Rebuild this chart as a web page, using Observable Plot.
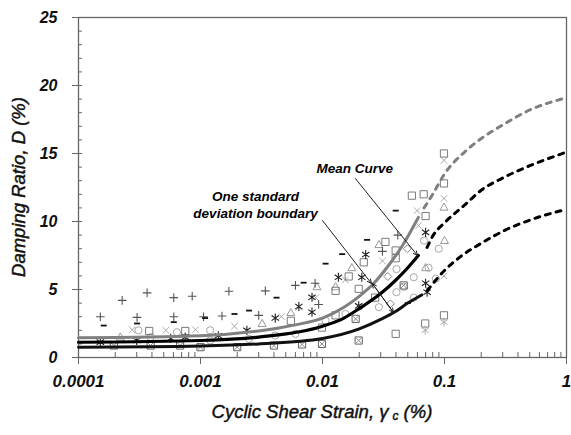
<!DOCTYPE html>
<html><head><meta charset="utf-8">
<script src="https://cdn.jsdelivr.net/npm/d3@7"></script>
<script src="https://cdn.jsdelivr.net/npm/@observablehq/plot@0.6"></script>
<style>body{margin:0;background:#fff}</style>
</head><body><div id="chart"></div>
<script>
// ---- axes ----
const xTicks = [0.0001, 0.001, 0.01, 0.1, 1];
const xTickLabels = ["0.0001", "0.001", "0.01", "0.1", "1"];
const yTicks = [0, 5, 10, 15, 20, 25];
const yTickLabels = ["0", "5", "10", "15", "20", "25"];
const xTitle = ["Cyclic Shear Strain, γ", "c", " (%)"];
const yTitle = "Damping Ratio, D (%)";

// ---- curves ----
const upperX = [0.0001, 0.001, 0.003, 0.006, 0.01, 0.015, 0.02, 0.026, 0.035, 0.045, 0.061];
const upperY = [1.45, 1.6, 1.95, 2.4, 2.9, 3.7, 4.5, 5.4, 6.8, 8.2, 10.3];
const meanX = [0.0001, 0.001, 0.003, 0.01, 0.015, 0.02, 0.03, 0.04, 0.05, 0.061];
const meanY = [1.12, 1.25, 1.5, 2.3, 2.9, 3.6, 4.7, 5.7, 6.6, 7.5];
const lowerX = [0.0001, 0.001, 0.003, 0.01, 0.02, 0.03, 0.04, 0.05, 0.065];
const lowerY = [0.76, 0.85, 1.0, 1.4, 2.1, 2.8, 3.4, 4.0, 4.6];
const upperDashX = [0.068, 0.08, 0.1, 0.15, 0.2, 0.3, 0.5, 1];
const upperDashY = [11.0, 12.0, 13.5, 15.2, 16.1, 17.1, 18.2, 19.1];
const meanDashX = [0.072, 0.081, 0.1, 0.15, 0.2, 0.3, 0.5, 1];
const meanDashY = [8.1, 9.0, 9.9, 11.3, 12.3, 13.2, 14.1, 15.1];
const lowerDashX = [0.072, 0.1, 0.13, 0.2, 0.32, 0.5, 1];
const lowerDashY = [4.9, 6.4, 7.3, 8.4, 9.4, 10.1, 10.9];

// ---- measured points [strain %, damping %] ----
const plusPts = [[0.000151,3.0],[0.000228,4.2],[0.000302,2.95],[0.000365,4.75],[0.000604,4.4],[0.000604,3.0],[0.000855,4.5],[0.00106,3.0],[0.0015,3.05],[0.00171,4.87],[0.003,3.1],[0.0034,4.9],[0.006,5.3],[0.0087,5.46],[0.0093,3.9],[0.031,7.8],[0.0414,9.0]];
const dashPts = [[0.000161,2.35],[0.000302,2.5],[0.000604,2.6],[0.00109,2.9],[0.0019,3.2],[0.0025,3.45],[0.0042,4.4],[0.007,5.5],[0.0106,6.9],[0.0145,7.6],[0.0232,8.65],[0.0398,10.8],[0.05,4.0]];
const timesPts = [[0.000275,2.04],[0.00052,2.0],[0.00091,2.04],[0.0019,2.3],[0.0046,3.0],[0.0064,3.7],[0.0088,4.4],[0.0154,5.7],[0.0198,3.7],[0.031,7.1],[0.0596,10.8],[0.0614,9.7],[0.099,14.5],[0.099,11.7],[0.099,6.0]];
const circlePts = [[0.00031,2.0],[0.00064,1.86],[0.00039,1.5],[0.0012,2.0],[0.0012,1.25],[0.0025,1.37],[0.0041,1.62],[0.006,1.74],[0.0106,2.7],[0.0154,3.2],[0.029,3.7],[0.0404,6.5],[0.0463,5.2],[0.056,5.9],[0.056,4.4],[0.0404,4.8],[0.074,6.6],[0.0897,8.0],[0.068,8.6],[0.085,5.8]];
const squarePts = [[0.00038,1.95],[0.00075,1.95],[0.0055,2.7],[0.0099,2.2],[0.0128,4.9],[0.0128,3.1],[0.0164,5.96],[0.0198,5.05],[0.0218,7.0],[0.027,4.4],[0.0328,8.5],[0.0398,7.87],[0.0398,7.3],[0.054,11.9],[0.0675,12.0],[0.07,10.4],[0.099,15.0],[0.099,12.8],[0.099,3.1],[0.0695,2.5],[0.0398,1.74]];
const boxedPts = [[0.000195,0.88],[0.00039,0.88],[0.00068,0.88],[0.001,0.76],[0.002,0.76],[0.004,0.88],[0.0068,0.96],[0.0099,1.0],[0.0187,2.84],[0.0198,1.25],[0.0463,5.3]];
const trianglePts = [[0.00022,1.5],[0.0032,2.5],[0.0055,3.3],[0.009,5.2],[0.0128,5.2],[0.0174,6.6],[0.029,8.3],[0.1,8.6],[0.099,11.05],[0.07,6.6]];
const diamondPts = [[0.0496,8.0],[0.0343,5.96],[0.036,3.94]];
const asteriskPts = [[0.000151,1.13],[0.0003,1.25],[0.00057,1.4],[0.00075,1.5],[0.0014,1.6],[0.0024,2.0],[0.0041,2.9],[0.0064,3.75],[0.0082,4.43],[0.0082,3.33],[0.0135,5.9],[0.021,5.9],[0.0198,3.8],[0.0226,7.57],[0.07,9.2],[0.07,5.46],[0.072,4.8]];
const lightAsteriskPts = [[0.0695,2.0],[0.099,2.6]];

// ---- annotations ----
const annoText = ["Mean Curve", "One standard", "deviation boundary"];
const annoX = [0.0184, 0.00283, 0.00283];
const annoY = [13.9, 11.84, 10.6];
const arrowX1 = [0.0186, 0.01, 0.0256, 0.0382];
const arrowY1 = [13.16, 10.07, 5.44, 3.31];
const arrowX2 = [0.0601, 0.0252, 0.0382, 0.0256];
const arrowY2 = [7.5, 5.44, 3.31, 5.44];

// ---- build ----
const toRows = (xs, ys) => xs.map((x, i) => ({x, y: ys[i]}));
const pts = a => a.map(([x, y]) => ({x, y}));
const R = s => Math.sqrt(s / Math.PI);
const sym = {
  plus: {draw(c, s) { const r = R(s); c.moveTo(-r, 0); c.lineTo(r, 0); c.moveTo(0, -r); c.lineTo(0, r); }},
  times: {draw(c, s) { const r = R(s) * 0.8; c.moveTo(-r, -r); c.lineTo(r, r); c.moveTo(-r, r); c.lineTo(r, -r); }},
  dash: {draw(c, s) { const r = R(s); c.moveTo(-r, 0); c.lineTo(r, 0); }},
  square: {draw(c, s) { const r = R(s); c.rect(-r, -r, 2 * r, 2 * r); }},
  circle: {draw(c, s) { const r = R(s); c.moveTo(r, 0); c.arc(0, 0, r, 0, 2 * Math.PI); }},
  triangle: {draw(c, s) { const r = R(s); c.moveTo(0, -r); c.lineTo(r * 0.95, r * 0.7); c.lineTo(-r * 0.95, r * 0.7); c.closePath(); }},
  diamond: {draw(c, s) { const r = R(s); c.moveTo(0, -r); c.lineTo(r, 0); c.lineTo(0, r); c.lineTo(-r, 0); c.closePath(); }},
  asterisk: {draw(c, s) { const r = R(s); const u = r * 0.8; c.moveTo(0, -r); c.lineTo(0, r); c.moveTo(-u, -u * 0.7); c.lineTo(u, u * 0.7); c.moveTo(-u, u * 0.7); c.lineTo(u, -u * 0.7); }}
};
const dot = (data, symbol, r, stroke, sw = 1) =>
  Plot.dot(pts(data), {x: "x", y: "y", symbol, r, stroke, fill: "none", strokeWidth: sw});

const minorX = [];
for (const d of [0.0001, 0.001, 0.01, 0.1]) for (let k = 2; k <= 9; k++) minorX.push(+(d * k).toPrecision(3));
const minorY = d3.range(0, 26);

const FONT = "'Liberation Sans', Arial, sans-serif";
const none = () => "";

const plot = Plot.plot({
  width: 571, height: 435,
  marginLeft: 78, marginRight: 5, marginTop: 17, marginBottom: 78,
  style: {fontFamily: FONT, background: "#fff", overflow: "visible"},
  x: {type: "log", domain: [0.0001, 1]},
  y: {domain: [0, 25]},
  marks: [
    // minor ticks (inside)
    Plot.axisX({ticks: minorX, tickSize: -5, tickFormat: none, stroke: "#666", label: null}),
    Plot.axisY({ticks: minorY, tickSize: -4, tickFormat: none, stroke: "#666", label: null}),
    // major ticks + labels
    Plot.axisX({ticks: xTicks, tickSize: 7, tickPadding: 10, tickFormat: d => xTickLabels[xTicks.indexOf(d)],
      stroke: "#666", fill: "#111", fontSize: 17, fontWeight: "bold", fontStyle: "italic", label: null}),
    Plot.axisY({ticks: yTicks, tickSize: 6, tickPadding: 15, tickFormat: d => yTickLabels[yTicks.indexOf(d)],
      stroke: "#666", fill: "#111", fontSize: 16, fontWeight: "bold", fontStyle: "italic", label: null}),
    Plot.frame({stroke: "#666", strokeWidth: 1.3}),
    // data points
    dot(timesPts, sym.times, 4, "#a8a8a8"),
    dot(circlePts, sym.circle, 3.6, "#a8a8a8"),
    dot(trianglePts, sym.triangle, 4.2, "#9a9a9a"),
    dot(diamondPts, sym.diamond, 4, "#8a8a8a"),
    dot(squarePts, sym.square, 3.6, "#7a7a7a"),
    dot(boxedPts, sym.square, 3.6, "#666"),
    dot(boxedPts, sym.times, 3.5, "#888"),
    dot(lightAsteriskPts, sym.asterisk, 4.5, "#aaa"),
    dot(plusPts, sym.plus, 4.3, "#555", 1.1),
    dot(dashPts, sym.dash, 3, "#111", 1.8),
    dot(asteriskPts, sym.asterisk, 4.6, "#222", 1.1),
    // curves
    Plot.line(toRows(upperDashX, upperDashY), {x: "x", y: "y", stroke: "#7f7f7f", strokeWidth: 3, strokeDasharray: "5,6", curve: "monotone-x"}),
    Plot.line(toRows(meanDashX, meanDashY), {x: "x", y: "y", stroke: "#000", strokeWidth: 3, strokeDasharray: "5,6", curve: "monotone-x"}),
    Plot.line(toRows(lowerDashX, lowerDashY), {x: "x", y: "y", stroke: "#000", strokeWidth: 3, strokeDasharray: "5,6", curve: "monotone-x"}),
    Plot.line(toRows(upperX, upperY), {x: "x", y: "y", stroke: "#808080", strokeWidth: 3, curve: "monotone-x"}),
    Plot.line(toRows(lowerX, lowerY), {x: "x", y: "y", stroke: "#111", strokeWidth: 3, curve: "monotone-x"}),
    Plot.line(toRows(meanX, meanY), {x: "x", y: "y", stroke: "#000", strokeWidth: 3.2, curve: "monotone-x"}),
    // annotations
    Plot.arrow(arrowX1.map((x, i) => ({x1: x, y1: arrowY1[i], x2: arrowX2[i], y2: arrowY2[i]})),
      {x1: "x1", y1: "y1", x2: "x2", y2: "y2", stroke: "#222", strokeWidth: 1, headLength: 7, headAngle: 50}),
    Plot.text(annoText.map((t, i) => ({t, x: annoX[i], y: annoY[i]})),
      {x: "x", y: "y", text: "t", fontSize: 13.5, fontWeight: "bold", fontStyle: "italic", fill: "#000", textAnchor: "middle"})
  ]
});

const svg = d3.select(plot);
svg.append("text")
  .attr("transform", "translate(19,187) rotate(-90)")
  .attr("text-anchor", "middle").attr("dy", "0.35em")
  .style("font", "italic 18.5px " + FONT).attr("fill", "#111")
  .attr("stroke", "#111").attr("stroke-width", 0.45)
  .text(yTitle);
const xt = svg.append("text")
  .attr("x", 322).attr("y", 418).attr("text-anchor", "middle")
  .style("font", "italic 18.5px " + FONT).attr("fill", "#111")
  .attr("stroke", "#111").attr("stroke-width", 0.45);
xt.append("tspan").text(xTitle[0]);
xt.append("tspan").attr("dx", 4).attr("dy", 2).style("font-size", "12px").text(xTitle[1]);
xt.append("tspan").attr("dy", -2).text(xTitle[2]);

document.getElementById("chart").appendChild(plot);
</script>
</body></html>
